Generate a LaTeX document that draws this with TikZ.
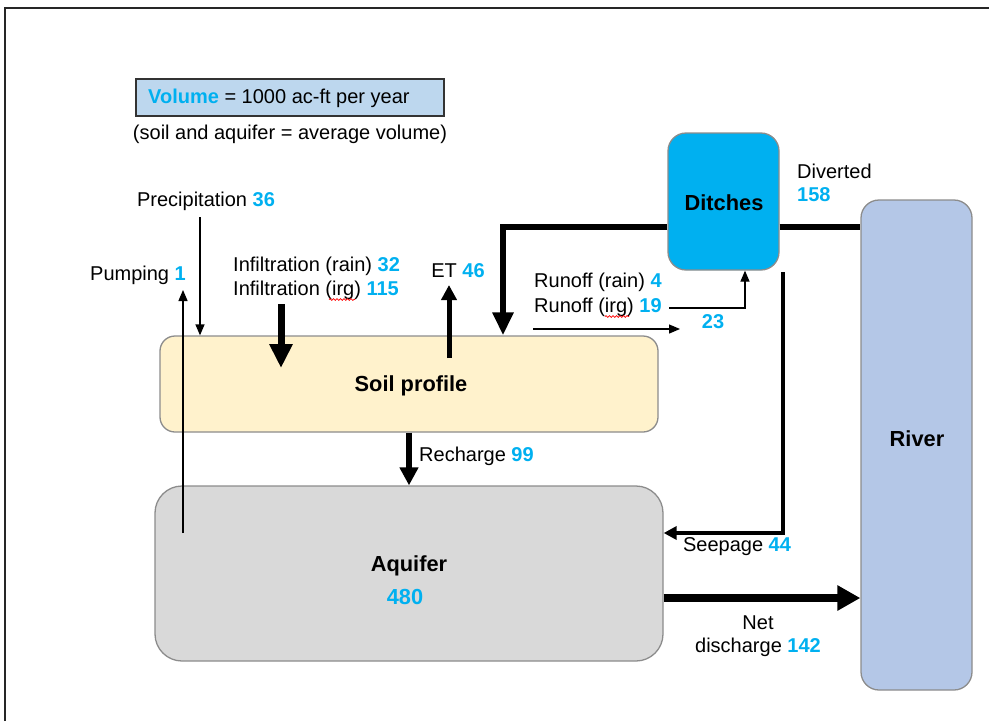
\documentclass[tikz,border=0pt]{standalone}
\usepackage{fontspec}
\setmainfont{Liberation Sans}
\usetikzlibrary{arrows.meta,decorations.pathmorphing}
\definecolor{cyanv}{HTML}{00B0F0}
\definecolor{legendc}{HTML}{BDD7EE}
\definecolor{soilc}{HTML}{FFF2CC}
\definecolor{aquic}{HTML}{D9D9D9}
\definecolor{riverc}{HTML}{B4C7E7}
\definecolor{edgec}{HTML}{8C8C8C}
\newcommand{\val}[1]{\textcolor{cyanv}{\textbf{#1}}}
\begin{document}
\begin{tikzpicture}[x=1pt,y=-1pt,
  font=\fontsize{20}{24}\selectfont,
  txt/.style={inner sep=0pt, anchor=base},
  txtw/.style={inner sep=0pt, anchor=base west},
  boxlabel/.style={inner sep=0pt, anchor=base, font=\fontsize{21.8}{26}\selectfont\bfseries},
  box/.style={draw=edgec, line width=1.3pt, inner sep=0pt},
  thinarrow/.style={line width=1.3pt, -{Triangle[length=11pt,width=9pt]}},
  fatline/.style={line width=6.5pt, line join=miter},
  tipA/.style={-{Triangle[length=23pt,width=20pt]}},
]
\useasboundingbox (0,0) rectangle (989,721);
% frame
\draw[line width=2pt, color=black!85] (5,721) -- (5,7.5) -- (989,7.5);

% boxes
\node[box, draw=black!80, fill=legendc, minimum width=308pt, minimum height=37pt] (legend) at (290,97.5) {};
\node[box, fill=soilc, rounded corners=15pt, minimum width=498pt, minimum height=96pt] (soil) at (409,384) {};
\node[box, fill=aquic, rounded corners=27pt, minimum width=508pt, minimum height=175pt] (aquifer) at (409,573.5) {};
\node[box, fill=cyanv, rounded corners=18pt, minimum width=111pt, minimum height=137pt] (ditches) at (723.5,201.5) {};
\node[box, fill=riverc, rounded corners=18pt, minimum width=111pt, minimum height=490pt] (river) at (916.5,445) {};

% texts
\node[txtw] (legtxt) at (148,103.5) {\val{Volume} = 1000 ac-ft per year};
\node[txt] (legnote) at (290,139.5) {(soil and aquifer = average volume)};
\node[txt] (precip) at (206,206.5) {Precipitation \val{36}};
\node[txt] (pump) at (138,280) {Pumping \val{1}};
\node[txtw] (infr) at (233,271.5) {Infiltration (rain) \val{32}};
\node[txtw] (infi) at (233,295.5) {Infiltration (irg) \val{115}};
\node[txt] (et) at (458,277) {ET \val{46}};
\node[txtw] (div1) at (797,178) {Diverted};
\node[txtw] (div2) at (797,201.5) {\val{158}};
\node[txtw] (ror) at (534,287) {Runoff (rain) \val{4}};
\node[txtw] (roi) at (534,312) {Runoff (irg) \val{19}};
\node[txt] (ro23) at (713,328.5) {\val{23}};
\node[boxlabel] (ditchtxt) at (724,210.5) {Ditches};
\node[boxlabel] (riverttxt) at (917,446.5) {River};
\node[boxlabel] (soiltxt) at (411,391.5) {Soil profile};
\node[txtw] (rech) at (419,461) {Recharge \val{99}};
\node[boxlabel] (aqtxt) at (409,571.5) {Aquifer};
\node[boxlabel, text=cyanv] (aqval) at (405,604) {480};
\node[txt] (seep) at (737,551) {Seepage \val{44}};
\node[txt] (net1) at (758,629.5) {Net};
\node[txt] (net2) at (758,652) {discharge \val{142}};

% spell-check squiggles
\draw[red, line width=0.7pt, decorate, decoration={snake, amplitude=0.9pt, segment length=3.5pt}] (329,299.5) -- (355,299.5);
\draw[red, line width=0.7pt, decorate, decoration={snake, amplitude=0.9pt, segment length=3.5pt}] (605,316.5) -- (629,316.5);

% connectors
\coordinate (pr0) at (200,217);
\draw[thinarrow] (pr0) -- (pr0 |- soil.north);

\coordinate (pu0) at (183,533);
\coordinate (pu1) at (183,290);
\draw[thinarrow] (pu0) -- (pu1);

\coordinate (in0) at (281,304);
\coordinate (in1) at (281,368);
\draw[line width=7pt, -{Triangle[length=24pt,width=22pt]}] (in0) -- (in1);

\coordinate (et0) at (449,358);
\coordinate (et1) at (449,285);
\draw[line width=5pt, -{Triangle[length=15pt,width=15pt]}] (et0) -- (et1);

\coordinate (dvR) at (861,227);
\coordinate (dvL) at (503,227);
\draw[fatline] (ditches.east |- dvR) -- (river.west |- dvR);
\draw[fatline, tipA] (ditches.west |- dvR) -- (dvL) -- (dvL |- soil.north);

\coordinate (ro0) at (533,329);
\coordinate (ro1) at (680,329);
\draw[thinarrow] (ro0) -- (ro1);
\coordinate (ro2) at (669,308);
\coordinate (ro3) at (745,308);
\draw[thinarrow] (ro2) -- (ro3) -- (ro3 |- ditches.south);

\coordinate (se0) at (783,272);
\coordinate (se1) at (783,533);
\draw[line width=4.5pt, line join=miter, -{Triangle[length=13pt,width=13pt]}] (se0) -- (se1) -- (se1 -| aquifer.east);

\draw[line width=5.5pt, -{Triangle[length=18pt,width=18pt]}] (soil.south) -- (aquifer.north);

\coordinate (nd) at (700,598);
\draw[line width=8pt, -{Triangle[length=23pt,width=24pt]}] (nd -| aquifer.east) -- (nd -| river.west);
\end{tikzpicture}
\end{document}
